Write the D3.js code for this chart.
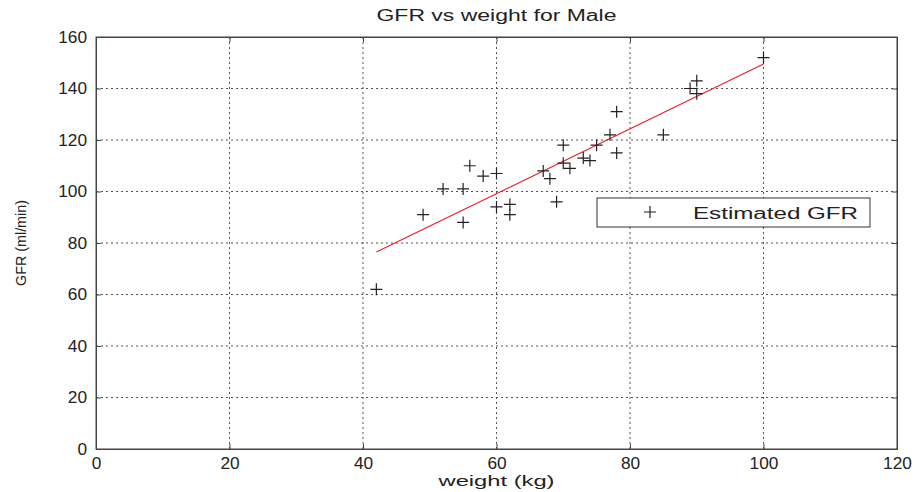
<!DOCTYPE html>
<html>
<head>
<meta charset="utf-8">
<script src="https://cdn.jsdelivr.net/npm/d3@7"></script>
<style>
    body { margin: 0; background: #fff; }
    svg { display: block; font-family: "Liberation Sans", Arial, sans-serif; }
</style>
</head>
<body>
<div id="chart"></div>
<script>
// Data
const weights = [42, 49, 52, 55, 55, 56, 58, 60, 60, 62, 62, 67, 68, 69, 70, 70, 71, 73, 74, 75, 77, 78, 78, 85, 89, 90, 90, 100];
const gfrValues = [62, 91, 101, 101, 88, 110, 106, 107, 94, 95, 91, 108, 105, 96, 118, 111, 109, 113, 112, 118, 122, 131, 115, 122, 140, 138, 143, 152];
const fitWeights = [42, 100];
const fitGfr = [76.5, 149.5];
const xTicks = [0, 20, 40, 60, 80, 100, 120];
const yTicks = [0, 20, 40, 60, 80, 100, 120, 140, 160];

const points = weights.map((w, i) => ({ weight: w, gfr: gfrValues[i] }));
const fitLine = fitWeights.map((w, i) => ({ weight: w, gfr: fitGfr[i] }));

const margin = { top: 37, right: 18, bottom: 43, left: 96 };
const totalWidth = 915, totalHeight = 492;
const width = totalWidth - margin.left - margin.right;
const height = totalHeight - margin.top - margin.bottom;

const svg = d3.select('#chart').append('svg')
    .attr('width', totalWidth)
    .attr('height', totalHeight);

const g = svg.append('g')
    .attr('transform', `translate(${margin.left},${margin.top})`);

const x = d3.scaleLinear().domain([0, 120]).range([0, width]);
const y = d3.scaleLinear().domain([0, 160]).range([height, 0]);

// Dotted grid
g.append('g')
    .selectAll('line')
    .data(xTicks.slice(1, -1))
    .enter().append('line')
    .attr('x1', d => x(d)).attr('x2', d => x(d))
    .attr('y1', 0).attr('y2', height)
    .attr('stroke', '#555')
    .attr('stroke-dasharray', '2,3');

g.append('g')
    .selectAll('line')
    .data(yTicks.slice(1, -1))
    .enter().append('line')
    .attr('x1', 0).attr('x2', width)
    .attr('y1', d => y(d)).attr('y2', d => y(d))
    .attr('stroke', '#555')
    .attr('stroke-dasharray', '2,3');

// Axes with inward ticks
g.append('g')
    .attr('transform', `translate(0,${height})`)
    .call(d3.axisBottom(x).tickValues(xTicks).tickSize(-5).tickPadding(9));

g.append('g')
    .call(d3.axisLeft(y).tickValues(yTicks).tickSize(-5).tickPadding(9));

g.append('g')
    .call(d3.axisTop(x).tickValues(xTicks).tickSize(-5).tickFormat(''));

g.append('g')
    .attr('transform', `translate(${width},0)`)
    .call(d3.axisRight(y).tickValues(yTicks).tickSize(-5).tickFormat(''));

g.selectAll('.domain').attr('stroke', '#444');
g.selectAll('.tick line').attr('stroke', '#444');

// tick labels are wide in the original
g.selectAll('.tick text')
    .attr('font-size', 16)
    .attr('fill', '#222')
    .attr('font-family', 'Liberation Sans, Arial, sans-serif')
    .attr('textLength', function() { return this.textContent.length * 9.6; })
    .attr('lengthAdjust', 'spacingAndGlyphs');

// Plot frame
g.append('rect')
    .attr('width', width)
    .attr('height', height)
    .attr('fill', 'none')
    .attr('stroke', '#444');

// Fit line
const line = d3.line()
    .x(d => x(d.weight))
    .y(d => y(d.gfr));

g.append('path')
    .datum(fitLine)
    .attr('d', line)
    .attr('fill', 'none')
    .attr('stroke', '#e8202a')
    .attr('stroke-width', 1.2);

// Plus markers
function drawPlus(sel, size) {
    sel.append('path')
        .attr('d', `M${-size},0H${size}M0,${-size}V${size}`)
        .attr('stroke', '#222')
        .attr('stroke-width', 1.2)
        .attr('fill', 'none');
}

g.selectAll('.pt')
    .data(points)
    .enter().append('g')
    .attr('class', 'pt')
    .attr('transform', d => `translate(${x(d.weight)},${y(d.gfr)})`)
    .each(function() { drawPlus(d3.select(this), 6); });

// Helper for the wide text of the original
function wideText(parent, txt, px, py, size, len, anchor) {
    return parent.append('text')
        .attr('x', px)
        .attr('y', py)
        .attr('font-size', size)
        .attr('fill', '#222')
        .attr('text-anchor', anchor || 'middle')
        .attr('textLength', len)
        .attr('lengthAdjust', 'spacingAndGlyphs')
        .text(txt);
}

// Legend
const legend = svg.append('g');
legend.append('rect')
    .attr('x', 597).attr('y', 198)
    .attr('width', 273).attr('height', 29)
    .attr('fill', '#fff')
    .attr('stroke', '#333');
const legendMark = legend.append('g').attr('transform', 'translate(650,212)');
drawPlus(legendMark, 6);
wideText(legend, 'Estimated GFR', 693, 219, 16, 165, 'start');

// Titles
wideText(svg, 'GFR vs weight for Male', margin.left + width / 2, 21, 16, 240);
wideText(svg, 'weight (kg)', margin.left + width / 2, 486, 15, 116);

svg.append('text')
    .attr('transform', `translate(26,${margin.top + height / 2}) rotate(-90)`)
    .attr('text-anchor', 'middle')
    .attr('font-size', 14)
    .attr('fill', '#222')
    .attr('textLength', 86)
    .attr('lengthAdjust', 'spacingAndGlyphs')
    .text('GFR (ml/min)');
</script>
</body>
</html>
